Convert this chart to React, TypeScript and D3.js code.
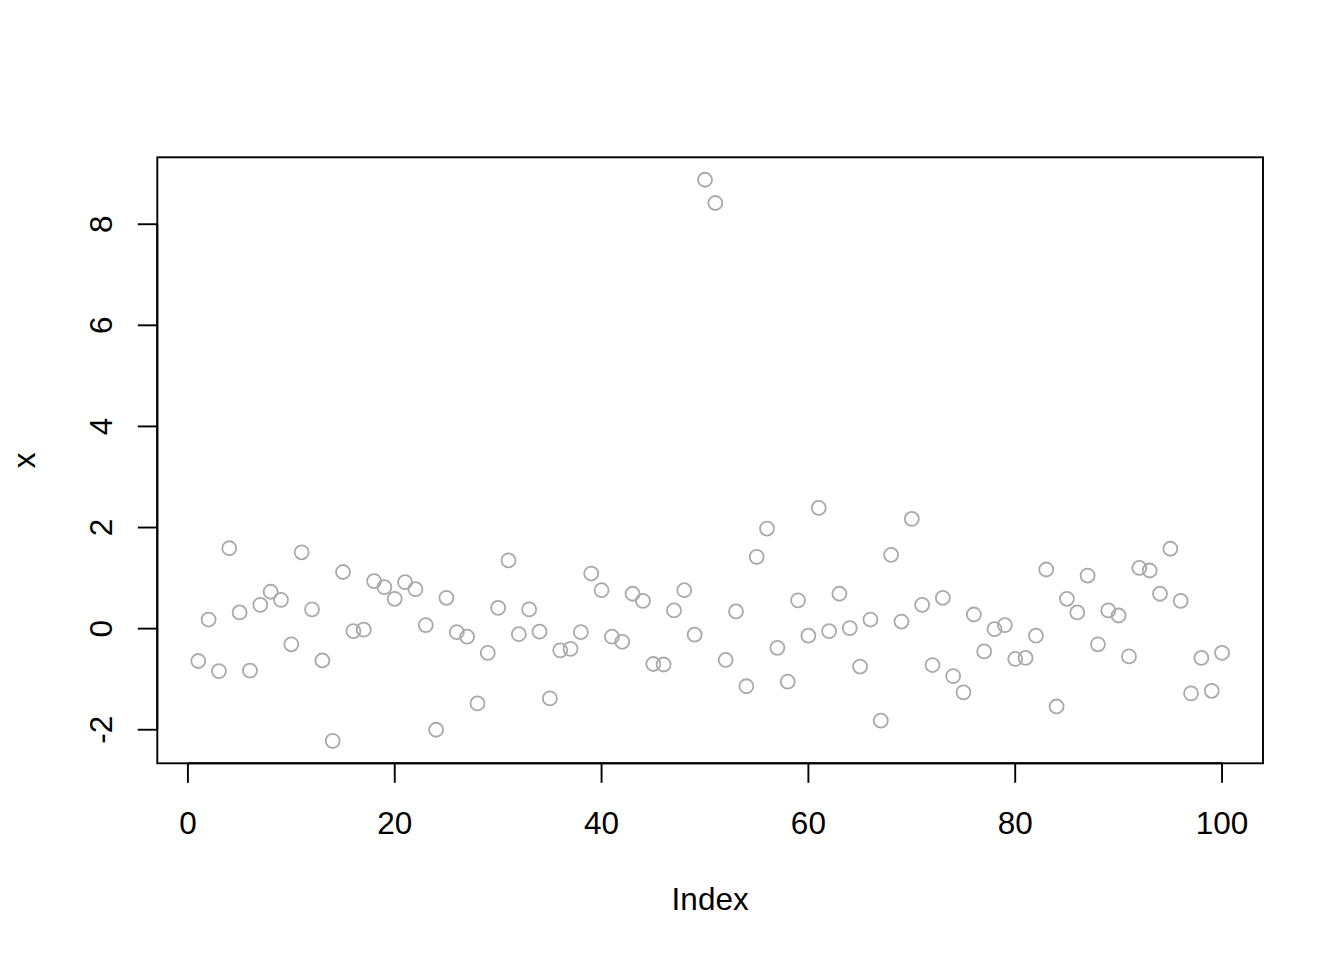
import React from "react";
import * as d3 from "d3";

const values: number[] = [
  -0.64, 0.18, -0.84, 1.59, 0.32, -0.83, 0.47, 0.73, 0.57, -0.31,
  1.51, 0.38, -0.63, -2.22, 1.12, -0.05, -0.02, 0.94, 0.82, 0.59,
  0.92, 0.78, 0.07, -2.0, 0.61, -0.07, -0.16, -1.48, -0.48, 0.41,
  1.35, -0.11, 0.38, -0.06, -1.38, -0.43, -0.4, -0.07, 1.09, 0.76,
  -0.16, -0.26, 0.69, 0.55, -0.7, -0.71, 0.36, 0.76, -0.12, 8.88,
  8.42, -0.62, 0.34, -1.14, 1.42, 1.98, -0.38, -1.05, 0.56, -0.14,
  2.39, -0.05, 0.69, 0.01, -0.75, 0.18, -1.82, 1.46, 0.14, 2.17,
  0.47, -0.72, 0.61, -0.94, -1.26, 0.28, -0.45, -0.01, 0.07, -0.6,
  -0.58, -0.14, 1.17, -1.54, 0.59, 0.32, 1.05, -0.31, 0.36, 0.26,
  -0.55, 1.2, 1.15, 0.69, 1.58, 0.55, -1.28, -0.58, -1.23, -0.48,
];
const indices: number[] = values.map((_, i) => i + 1);
const xTicks: number[] = [0, 20, 40, 60, 80, 100];
const yTicks: number[] = [-2, 0, 2, 4, 6, 8];
const xLabel = "Index";
const yLabel = "x";

const W = 1344;
const H = 960;
const left = 157.3;
const right = 1263;
const top = 157.3;
const bottom = 763.3;
const font = "'Liberation Sans', Arial, Helvetica, sans-serif";
const fs = 31.5;
const lw = 1.9;

function extend(lo: number, hi: number): [number, number] {
  const d = (hi - lo) * 0.04;
  return [lo - d, hi + d];
}

export default function App() {
  const xDom = extend(d3.min(indices)!, d3.max(indices)!);
  const yDom = extend(d3.min(values)!, d3.max(values)!);
  const x = d3.scaleLinear().domain(xDom).range([left, right]);
  const y = d3.scaleLinear().domain(yDom).range([bottom, top]);
  const tickLen = 19.5;

  return (
    <svg
      width={W}
      height={H}
      style={{ position: "absolute", left: 0, top: 0, background: "#fff" }}
      fontFamily={font}
    >
      <rect x={0} y={0} width={W} height={H} fill="#fff" />
      {/* points */}
      {values.map((v, i) => (
        <circle
          key={i}
          cx={x(indices[i])}
          cy={y(v)}
          r={7}
          fill="none"
          stroke="#aaaaaa"
          strokeWidth={1.8}
        />
      ))}
      {/* box */}
      <rect
        x={left}
        y={top}
        width={right - left}
        height={bottom - top}
        fill="none"
        stroke="#000"
        strokeWidth={lw}
      />
      {/* x axis */}
      <line
        x1={x(xTicks[0])}
        x2={x(xTicks[xTicks.length - 1])}
        y1={bottom}
        y2={bottom}
        stroke="#000"
        strokeWidth={lw}
      />
      {xTicks.map((t) => (
        <g key={t}>
          <line
            x1={x(t)}
            x2={x(t)}
            y1={bottom}
            y2={bottom + tickLen}
            stroke="#000"
            strokeWidth={lw}
          />
          <text
            x={x(t)}
            y={834}
            textAnchor="middle"
            fontSize={fs}
            fill="#000"
          >
            {t}
          </text>
        </g>
      ))}
      {/* y axis */}
      <line
        x1={left}
        x2={left}
        y1={y(yTicks[0])}
        y2={y(yTicks[yTicks.length - 1])}
        stroke="#000"
        strokeWidth={lw}
      />
      {yTicks.map((t) => (
        <g key={t}>
          <line
            x1={left - tickLen}
            x2={left}
            y1={y(t)}
            y2={y(t)}
            stroke="#000"
            strokeWidth={lw}
          />
          <text
            transform={`translate(111.5,${y(t)}) rotate(-90)`}
            textAnchor="middle"
            fontSize={fs}
            fill="#000"
          >
            {t}
          </text>
        </g>
      ))}
      {/* axis titles */}
      <text
        x={(left + right) / 2}
        y={910}
        textAnchor="middle"
        fontSize={fs}
        fill="#000"
      >
        {xLabel}
      </text>
      <text
        transform={`translate(34.5,${(top + bottom) / 2}) rotate(-90)`}
        textAnchor="middle"
        fontSize={fs}
        fill="#000"
      >
        {yLabel}
      </text>
    </svg>
  );
}
